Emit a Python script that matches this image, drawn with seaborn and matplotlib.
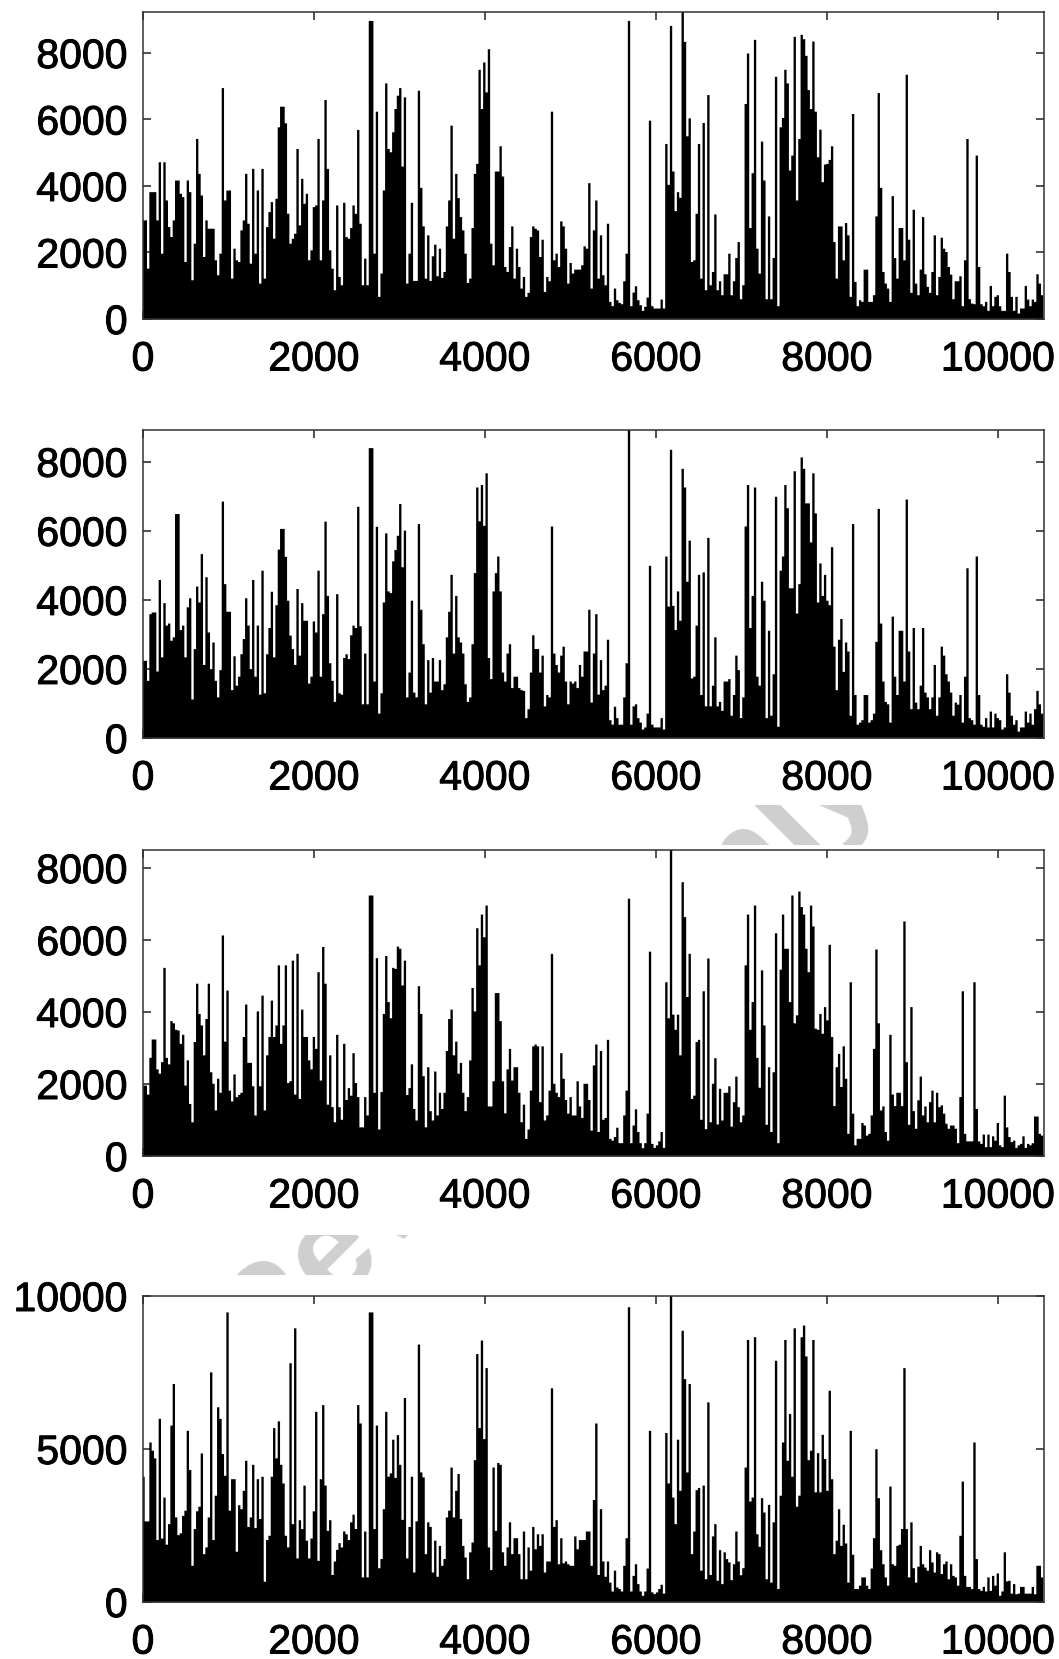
import numpy as np
import pandas as pd
import seaborn as sns
import matplotlib
matplotlib.use("Agg")
import matplotlib.pyplot as plt
import matplotlib.patheffects as pe
from matplotlib.transforms import Bbox

XMAX = 10538
BIN_WIDTH = XMAX / 386

panel1 = [
2980,2980,1530,3830,3830,3830,2980,4730,1980,4730,3580,2780,2480,2980,4180,4180,3780,3680,1730,4180,3830,1180,2280,5430,4380,3730,1880,2980,2730,2730,2730,1780,1330,1980,6960,3580,3880,3880,1230,2130,1780,1730,2680,2980,4380,2880,1680,4530,1980,3880,1080,4530,1230,2780,3230,3530,2430,3630,5780,6400,6400,5900,3180,2280,2430,2580,5130,2830,4230,3480,3780,1780,2080,3380,3430,5430,1780,3580,6600,4530,2080,1530,880,3430,1280,1030,3510,2480,2430,2750,3430,3180,5700,2880,1030,1830,1030,8980,8980,1980,6250,680,1380,3880,7100,5130,5030,5630,6330,6730,6960,4600,6680,1080,1980,3510,1160,1160,6880,3960,2800,1230,2530,1160,1900,2250,1300,2130,1250,1430,2800,3580,5830,2430,4380,3650,3080,2680,1980,1100,1230,2750,4380,4680,7510,6330,7730,6830,8130,2280,1630,4450,4450,5210,4300,1580,1430,2180,2800,1230,2130,1580,930,1280,680,800,2480,2800,2730,2680,1880,2400,830,1280,1150,6250,1780,1980,1580,2950,2800,2130,1080,1700,1380,1500,1500,1500,1630,2200,2130,4100,
930,2680,3580,1230,2530,1330,1030,2880,530,400,930,580,500,460,1150,1980,8980,400,810,1000,580,430,260,380,660,5980,400,330,330,330,600,330,5280,4050,8830,4450,3260,3830,3660,9300,8350,5510,6050,1730,1780,3180,5280,1230,5910,880,6750,1030,1430,3160,880,1150,730,1360,1360,1980,730,1150,1850,2330,610,1030,6480,8000,2750,4400,8410,2130,1380,5350,4180,610,3100,610,1850,7300,400,5780,6060,7510,7100,4480,4930,8500,3580,5430,8560,8430,7930,6900,6330,8360,6250,4880,5710,4130,4660,4680,4800,5210,2330,1230,2800,2800,1780,2900,2530,680,6180,1130,400,580,530,1500,1500,530,530,730,3100,6810,3960,1430,1080,930,530,3710,1850,1230,2750,2750,1780,7360,2400,800,3300,1080,730,1500,3080,1360,980,800,1430,2530,730,1280,2460,2130,2030,1580,1350,610,1150,1150,1300,400,1780,5430,610,480,460,4930,1580,460,400,530,260,1010,400,680,730,400,260,260,1980,1430,680,260,680,180,330,330,1010,600,400,600,530,1360,1080,730]

panel2 = [
2250,2250,1670,3600,3650,3650,1940,4590,2350,3920,3270,3330,2830,2930,6500,6500,3140,3270,2350,3800,4060,1130,2590,4400,3940,5340,2130,4670,3070,2010,2780,1670,1190,1980,6860,4470,3670,3670,1400,2380,1530,1790,2440,2880,4060,3270,2010,4590,1790,3270,1270,4860,1310,2440,3200,4250,2350,3860,5470,6070,6070,5260,3990,2980,2590,2130,4330,2400,3920,3410,3410,1590,1790,3390,3070,4860,1790,3600,6280,4130,2180,1670,1060,4180,1310,1270,2330,2440,2300,2990,3270,3200,6710,3250,990,2460,990,8410,8410,1650,6130,720,1310,3940,5940,4260,4210,5130,5460,5870,6790,4960,6020,1190,1910,3990,1330,1190,6210,3730,2730,990,2270,1330,2330,1650,1650,2270,1400,1570,2930,3670,4740,2460,4130,2930,2780,2460,1570,1060,1190,2730,4790,7270,6290,7340,6160,7680,2330,1720,4260,4790,5270,4260,1910,1650,2460,2730,1460,1790,1790,1460,1400,1380,590,850,1910,2990,2590,2590,1910,2400,930,1260,1190,6140,2460,2130,1910,2400,2660,1650,990,1650,1590,1650,1460,2130,1790,2520,2520,3730,
1040,2460,3600,1270,2270,1400,1530,2860,530,400,920,590,400,400,1190,2180,9000,400,930,990,590,460,260,320,720,5000,400,320,320,320,590,260,5270,3820,8360,3840,3140,4260,3410,7810,7270,4540,5730,1740,1790,3270,4740,1260,4810,930,5810,930,1530,2930,930,1060,800,1650,1650,1720,660,1260,2400,1980,590,1190,6140,7340,3200,4130,7270,1790,1530,4540,3990,590,3120,660,1860,7000,340,4860,5270,7340,6670,4350,4350,7740,3620,4470,8140,7810,6810,6810,5680,7680,6520,3940,5070,4130,4740,3990,3860,5540,2660,1400,2860,3460,1930,2780,2520,660,6210,1260,400,460,530,1260,1260,460,530,720,2800,6650,3330,1650,1060,990,460,3530,1790,1260,3120,3120,1650,6920,2520,850,3200,1040,850,1530,3200,1330,1190,850,1190,2130,660,1190,2660,2400,1860,1650,1330,660,1040,980,1260,460,1790,4930,590,530,400,5270,1260,400,340,590,320,780,320,720,590,530,260,320,1860,1330,660,400,530,200,320,320,780,460,720,400,850,1380,990,720]

panel3 = [
1970,1970,1720,2740,3250,3250,2420,2300,2620,5240,2740,2560,3760,3700,3520,3500,3130,3380,1970,2670,1460,950,3180,4800,3960,3640,2810,3820,4800,2340,2020,1280,2160,1770,6140,3190,4610,1830,1530,2280,1650,1710,1770,3320,4220,2600,2600,1950,1140,4030,1950,4470,1280,2810,3320,4330,3320,3640,5310,3130,3640,5310,2040,2090,5440,1720,5630,1600,4080,3320,3320,2670,2420,3320,2990,5120,2110,5820,4800,1440,2810,1370,950,3380,1370,1020,3130,1570,1900,1690,2870,2040,1650,810,810,1650,1140,7250,7250,1770,5510,750,1790,3960,5570,4290,3840,5240,5210,5830,5770,4750,5440,1710,1900,2560,1320,1000,4730,3960,2230,810,2480,1260,1000,2360,1140,1770,1320,1770,2930,3820,4080,2810,3190,2300,2600,1770,1260,1650,2670,4680,4030,6340,5310,6720,6090,6970,1390,1390,2090,4540,4540,3760,2090,1200,2420,2990,2110,2480,2480,1770,950,1440,490,750,1830,3060,3110,3060,1510,3060,1000,1140,1830,5630,2020,1770,1650,2870,2160,1570,1190,1650,1140,1140,2090,1390,1070,2020,2020,1570,
720,2530,3110,680,2930,1020,1070,3240,490,440,540,800,370,370,1140,1830,7160,370,860,1310,680,370,230,370,1190,5690,350,240,310,420,680,240,4840,3840,8600,3940,3520,3940,2810,7620,6650,4430,5630,1600,1690,3180,3240,1020,4590,760,5500,950,2020,2730,890,1880,1000,1770,1770,1950,830,1510,2220,1370,950,1140,5310,6720,3520,4290,6970,2740,1910,5170,3640,880,2480,680,2340,6200,370,5190,6720,5770,5770,4290,7250,3700,3920,7360,6930,6720,5770,5120,6970,6390,3550,3520,3960,3410,4150,3780,5880,3320,1400,2480,2850,1930,3060,2160,630,4840,1190,310,490,490,930,860,580,630,1140,2990,5750,3700,1280,1390,680,440,3380,1720,1400,1770,1770,1400,6530,2620,880,4150,1260,770,1560,2220,1140,1390,950,1510,1830,950,1770,1370,1420,1190,910,770,860,860,770,370,1650,4590,630,420,420,420,4840,1320,420,350,610,260,610,260,560,440,930,310,260,1690,810,540,400,440,240,310,350,560,240,350,310,370,1110,1110,630,580]

panel4 = [
4110,2650,2650,5230,4960,4710,2040,6000,2090,3430,1890,2560,5780,7140,2780,2200,2260,2830,3000,5610,4330,1200,2400,2980,3130,4870,1580,1800,2780,7520,2040,3490,6380,6000,4850,4140,9480,3000,4030,4030,1660,3180,3050,3650,4630,2470,2780,4500,2430,4030,2730,4110,680,2040,2180,4110,5700,4710,5920,4500,3890,2180,1800,7820,2560,8960,1440,2690,2400,3820,2020,1440,2090,2980,6230,1360,4030,6450,3820,2340,2690,900,1340,1720,1940,1800,2320,2230,2040,2620,2870,2400,6450,5850,820,2320,820,9480,9480,2400,5780,1120,1420,3050,6230,4110,4220,5320,4070,5470,4500,2700,6680,1440,2470,4110,980,2650,8430,4250,4090,1580,2620,2470,980,2020,840,1850,1200,1420,2780,3000,4410,2780,3650,4200,2730,1850,1470,760,1640,1960,4650,8120,5700,8560,5340,7660,1800,1060,4410,2340,4560,4500,1640,1200,1800,2620,1580,2100,2100,1580,760,2320,760,1800,1040,2470,1740,2230,1850,2230,980,1340,1340,7000,2470,2690,1250,2100,1280,1340,1250,1200,1200,2160,1740,2040,2040,2040,2320,2320,
1200,3350,5850,900,3050,1340,840,1340,650,360,1040,490,440,360,1200,2100,9650,360,870,1250,600,360,220,360,1110,5610,330,270,330,440,580,290,5540,3890,10100,3430,2560,5320,3650,8880,7300,4250,7140,1580,2320,3670,3740,1040,3820,760,6540,900,2160,2560,710,1710,600,1640,1420,1310,730,1250,2320,1340,890,1120,4410,8580,3300,3430,8670,2230,1820,3410,2940,760,3190,650,2620,7900,440,3490,5230,8580,4630,6160,4110,8960,3130,3490,8670,9050,8040,4650,4960,8580,3600,4880,3600,5480,4690,3650,6920,4030,1580,2020,3050,1850,2540,1930,650,5610,1560,440,440,550,820,820,550,440,1110,2100,5010,3410,1710,1250,820,550,3790,1250,1200,1850,1890,2400,7660,2400,820,2620,1120,650,1170,1850,1250,1140,1040,1710,1310,980,1640,1580,930,1250,1340,760,1250,870,820,550,2180,3950,870,510,510,440,5230,1420,440,380,510,360,820,380,870,550,950,220,360,1640,690,710,290,600,270,290,510,510,290,290,290,510,270,1200,1200,820]

series = [panel1, panel2, panel3, panel4]
y_limits = [9233, 8920, 8500, 10000]
y_ticks = [[0, 2000, 4000, 6000, 8000], [0, 2000, 4000, 6000, 8000],
           [0, 2000, 4000, 6000, 8000], [0, 5000, 10000]]
x_ticks = [0, 2000, 4000, 6000, 8000, 10000]

sns.set_style("ticks")
plt.rcParams["font.family"] = ["Liberation Sans", "DejaVu Sans"]

W, H = 1059, 1659
fig = plt.figure(figsize=(W / 100, H / 100), dpi=100, facecolor="white")
frames = [(12, 319), (430, 738), (850, 1156), (1296, 1602)]
left, right = 143, 1044

for vals, ymax, yt, (top, bot) in zip(series, y_limits, y_ticks, frames):
    ax = fig.add_axes([left / W, 1 - bot / H, (right - left) / W, (bot - top) / H])
    n = len(vals)
    df = pd.DataFrame({"x": np.arange(n) * BIN_WIDTH, "v": vals})
    sns.histplot(data=df, x="x", weights="v", bins=n,
                 binrange=(-0.5 * BIN_WIDTH, (n - 0.5) * BIN_WIDTH),
                 element="step", fill=True, color="black", alpha=1, linewidth=0, ax=ax)
    ax.set_xlim(0, XMAX)
    ax.set_ylim(0, ymax)
    ax.set_xticks(x_ticks)
    ax.set_yticks(yt)
    ax.set_xlabel("")
    ax.set_ylabel("")
    ax.tick_params(axis="both", direction="in", length=5.8, width=1.1, color="#222222",
                   top=True, right=True, labelsize=29.5, labelcolor="black")
    ax.tick_params(axis="x", pad=15.5)
    ax.tick_params(axis="y", pad=11)
    for lab in ax.get_xticklabels() + ax.get_yticklabels():
        lab.set_path_effects([pe.withStroke(linewidth=0.7, foreground="black")])
    for s in ax.spines.values():
        s.set_linewidth(1.1)
        s.set_color("#333333")

marks = [("Review", 402, 1183, (200, 1235, 450, 1275)),
         ("Only", 750, 863, (650, 805, 900, 845))]
for txt, cx, cy, (x0, y0, x1, y1) in marks:
    t = fig.text(cx / W, 1 - cy / H, txt, rotation=45, rotation_mode="anchor",
                 ha="center", va="center", fontsize=97, fontweight="bold",
                 color="#cfcfcf", zorder=-1)
    t.set_clip_box(Bbox([[x0, H - y1], [x1, H - y0]]))
    t.set_clip_on(True)

fig.savefig("out.png", dpi=100, facecolor="white")
